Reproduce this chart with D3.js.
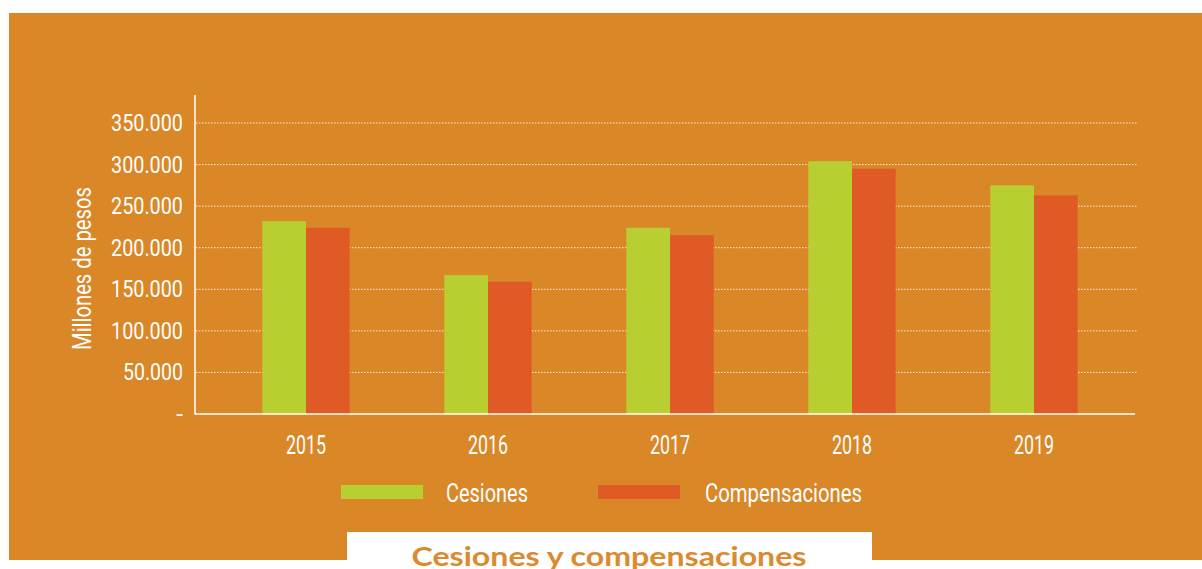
<!DOCTYPE html>
<html>
<head>
<meta charset="utf-8">
<script src="https://cdn.jsdelivr.net/npm/d3@7"></script>
<style>
  body { margin: 0; background: #fff; }
  .tick-text { font-family: Roboto, "Liberation Sans", sans-serif; fill: #fff; }
</style>
</head>
<body>
<div id="chart"></div>
<script>
// Cesiones y compensaciones, 2015-2019

var years = ["2015", "2016", "2017", "2018", "2019"];
var cesiones = [232000, 167000, 224000, 304000, 275000];
var compensaciones = [224000, 159000, 215000, 295000, 263000];
var seriesNames = ["Cesiones", "Compensaciones"];
var yTicks = [0, 50000, 100000, 150000, 200000, 250000, 300000, 350000];

var W = 1202, H = 569;
var bg = "#da8728", green = "#b9cf31", red = "#e05a25";

var svg = d3.select("#chart").append("svg")
    .attr("width", W)
    .attr("height", H);

// orange panel
svg.append("rect")
    .attr("x", 9).attr("y", 13)
    .attr("width", W - 9).attr("height", 547)
    .attr("fill", bg);

var y = d3.scaleLinear().domain([0, 350000]).range([414, 123]);
var x = d3.scaleBand().domain(years).range([215, 1125])
    .paddingInner(0.52).paddingOuter(0.26);
var xs = d3.scaleBand().domain(seriesNames).range([0, x.bandwidth()]);

// condensed look: squeeze each label to its measured width
var charW = 10.3;

// gridlines
svg.append("g").selectAll("line")
    .data(yTicks.filter(function(d) { return d > 0; }))
    .enter().append("line")
    .attr("x1", 196).attr("x2", 1137)
    .attr("y1", function(d) { return y(d); })
    .attr("y2", function(d) { return y(d); })
    .attr("stroke", "#fff")
    .attr("stroke-opacity", 0.85)
    .attr("stroke-width", 1)
    .attr("stroke-dasharray", "1.5,1.5");

// bars
var groups = svg.append("g").selectAll("g")
    .data(years)
    .enter().append("g")
    .attr("transform", function(d) { return "translate(" + x(d) + ",0)"; });

groups.selectAll("rect")
    .data(function(d, i) {
        return [{ key: "Cesiones", v: cesiones[i] }, { key: "Compensaciones", v: compensaciones[i] }];
    })
    .enter().append("rect")
    .attr("x", function(d) { return xs(d.key); })
    .attr("width", xs.bandwidth())
    .attr("y", function(d) { return y(d.v); })
    .attr("height", function(d) { return y(0) - y(d.v); })
    .attr("fill", function(d) { return d.key == "Cesiones" ? green : red; });

// axes lines
svg.append("line")
    .attr("x1", 195).attr("x2", 195)
    .attr("y1", 95).attr("y2", 414.5)
    .attr("stroke", "#fff").attr("stroke-width", 1.5);
svg.append("line")
    .attr("x1", 195).attr("x2", 1135)
    .attr("y1", 414).attr("y2", 414)
    .attr("stroke", "#fff").attr("stroke-width", 1.5);

// y tick labels
var fmt = d3.formatLocale({ decimal: ",", thousands: ".", grouping: [3], currency: ["$", ""] }).format(",");
svg.append("g").selectAll("text")
    .data(yTicks)
    .enter().append("text")
    .attr("class", "tick-text")
    .attr("x", 183)
    .attr("y", function(d) { return y(d) + 8; })
    .attr("text-anchor", "end")
    .attr("font-size", 24)
    .attr("textLength", function(d) { return d == 0 ? null : (d >= 100000 ? 72 : 60); })
    .attr("lengthAdjust", "spacingAndGlyphs")
    .text(function(d) { return d == 0 ? "-" : fmt(d); });

// y axis title
svg.append("text")
    .attr("class", "tick-text")
    .attr("transform", "translate(91,268.5) rotate(-90)")
    .attr("text-anchor", "middle")
    .attr("font-size", 26)
    .attr("textLength", 163)
    .attr("lengthAdjust", "spacingAndGlyphs")
    .text("Millones de pesos");

// x labels
svg.append("g").selectAll("text")
    .data(years)
    .enter().append("text")
    .attr("class", "tick-text")
    .attr("x", function(d) { return x(d) + x.bandwidth() / 2; })
    .attr("y", 454)
    .attr("text-anchor", "middle")
    .attr("font-size", 25)
    .attr("textLength", 40)
    .attr("lengthAdjust", "spacingAndGlyphs")
    .text(function(d) { return d; });

// legend
var legendX = [341, 598];
var legendW = [82, 157];
var legend = svg.append("g").selectAll("g")
    .data(seriesNames)
    .enter().append("g")
    .attr("transform", function(d, i) { return "translate(" + legendX[i] + ",485)"; });
legend.append("rect")
    .attr("width", 82).attr("height", 14)
    .attr("fill", function(d, i) { return i == 0 ? green : red; });
legend.append("text")
    .attr("class", "tick-text")
    .attr("x", function(d, i) { return i == 0 ? 105 : 107; })
    .attr("y", 17)
    .attr("font-size", 26)
    .attr("textLength", function(d, i) { return legendW[i]; })
    .attr("lengthAdjust", "spacingAndGlyphs")
    .text(function(d) { return d; });

// title box
svg.append("rect")
    .attr("x", 347).attr("y", 532)
    .attr("width", 525).attr("height", 40)
    .attr("fill", "#fff");
svg.append("text")
    .attr("x", 609).attr("y", 566)
    .attr("text-anchor", "middle")
    .attr("font-family", "Lato, 'Noto Sans', sans-serif")
    .attr("font-weight", "bold")
    .attr("font-size", 26)
    .attr("fill", "#db8a30")
    .attr("textLength", 395)
    .attr("lengthAdjust", "spacingAndGlyphs")
    .text("Cesiones y compensaciones");
</script>
</body>
</html>
